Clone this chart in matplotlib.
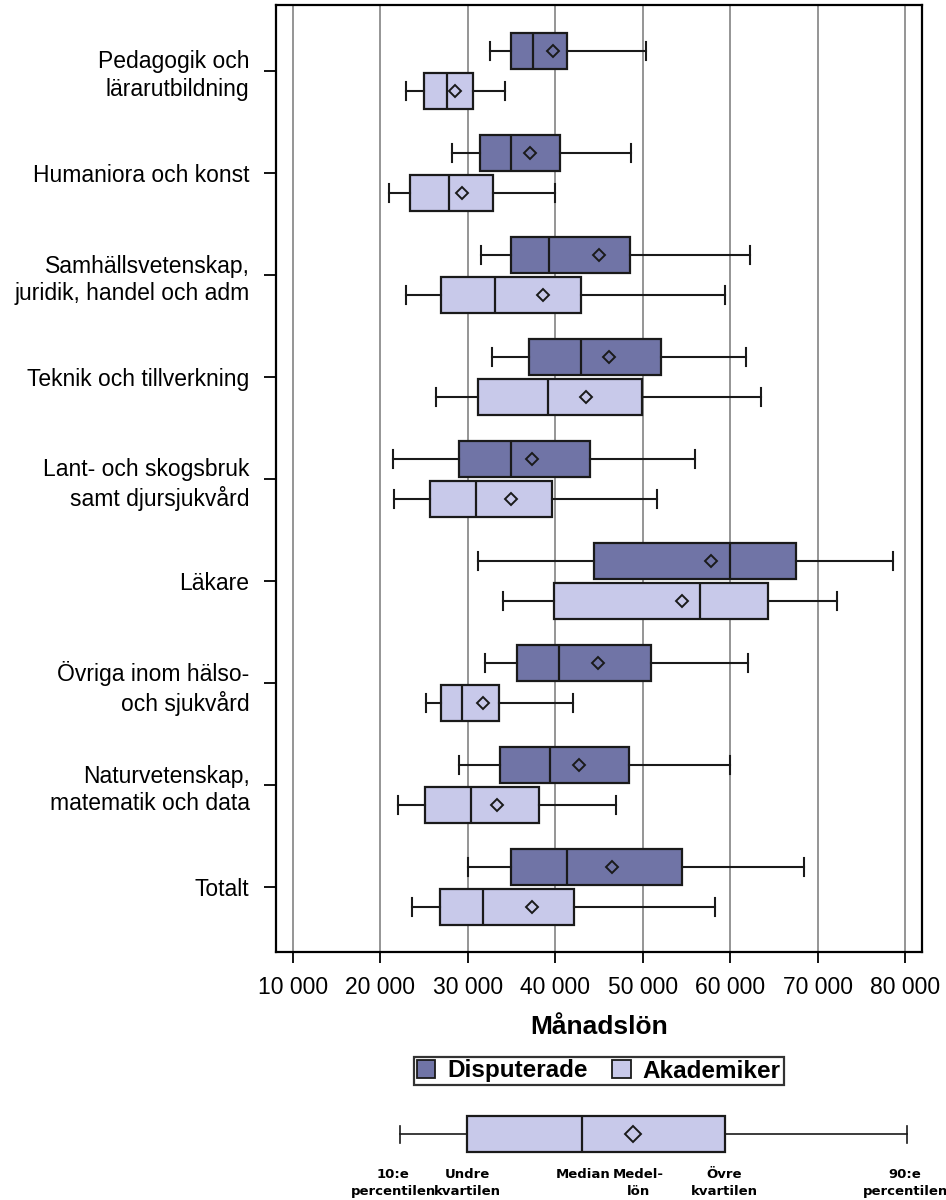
import matplotlib
matplotlib.use("Agg")
import matplotlib.pyplot as plt
from matplotlib.patches import Patch
from matplotlib.transforms import blended_transform_factory

# Categories (top to bottom)
categories = [
    "Pedagogik och\nlärarutbildning",
    "Humaniora och konst",
    "Samhällsvetenskap,\njuridik, handel och adm",
    "Teknik och tillverkning",
    "Lant- och skogsbruk\nsamt djursjukvård",
    "Läkare",
    "Övriga inom hälso-\noch sjukvård",
    "Naturvetenskap,\nmatematik och data",
    "Totalt",
]

# Disputerade: 10th percentile, quartiles, median, mean, 90th percentile
disp_p10 = [32500, 28200, 31500, 32800, 21500, 31200, 32000, 29000, 30000]
disp_q1 = [35000, 31400, 35000, 37000, 29000, 44400, 35600, 33700, 35000]
disp_med = [37500, 35000, 39300, 43000, 35000, 60000, 40400, 39400, 41400]
disp_mean = [39800, 37100, 45000, 46200, 37400, 57800, 44900, 42700, 46500]
disp_q3 = [41400, 40600, 48500, 52100, 44000, 67500, 50900, 48400, 54500]
disp_p90 = [50400, 48700, 62300, 61800, 56000, 78600, 62000, 60000, 68400]

# Akademiker
akad_p10 = [23000, 21000, 23000, 26400, 21600, 34000, 25200, 22000, 23600]
akad_q1 = [25000, 23400, 26900, 31200, 25700, 39900, 27000, 25100, 26800]
akad_med = [27600, 27900, 33100, 39200, 31000, 56500, 29300, 30400, 31800]
akad_mean = [28600, 29400, 38600, 43500, 34900, 54500, 31800, 33400, 37400]
akad_q3 = [30600, 32900, 43000, 49900, 39600, 64300, 33600, 38200, 42100]
akad_p90 = [34300, 40000, 59400, 63500, 51600, 72200, 42000, 47000, 58300]

# Explanatory key box
key_stats = [22300, 29900, 43100, 48900, 59400, 80200]  # p10, q1, med, mean, q3, p90
key_labels = ["10:e\npercentilen", "Undre\nkvartilen", "Median",
              "Medel-\nlön", "Övre\nkvartilen", "90:e\npercentilen"]
key_label_x = [21500, 30000, 43200, 49500, 59300, 80000]

xticks = [10000, 20000, 30000, 40000, 50000, 60000, 70000, 80000]
xticklabels = ["10 000", "20 000", "30 000", "40 000", "50 000", "60 000", "70 000", "80 000"]

DARK = "#7074A6"
LIGHT = "#C8C9EA"
EDGE = "#1a1a1a"
XLIM = (8090, 81920)


def make_stats(p10, q1, med, mean, q3, p90):
    return [dict(whislo=a, q1=b, med=c, mean=d, q3=e, whishi=f, fliers=[])
            for a, b, c, d, e, f in zip(p10, q1, med, mean, q3, p90)]


def draw(ax, stats, positions, color, width, capwidth, lw=1.5, ms=6.5):
    ax.bxp(stats, positions=positions, widths=width, capwidths=capwidth,
           orientation="horizontal", patch_artist=True, showmeans=True,
           showfliers=False, zorder=3,
           boxprops=dict(facecolor=color, edgecolor=EDGE, linewidth=1.6),
           medianprops=dict(color=EDGE, linewidth=1.6),
           whiskerprops=dict(color=EDGE, linewidth=lw),
           capprops=dict(color=EDGE, linewidth=lw),
           meanprops=dict(marker="D", markerfacecolor="none",
                          markeredgecolor=EDGE, markersize=ms,
                          markeredgewidth=1.4))


def main():
    plt.rcParams["font.family"] = ["Liberation Sans", "DejaVu Sans"]

    fig = plt.figure(figsize=(9.46, 12), dpi=100)
    W, H = 946, 1200
    ax = fig.add_axes([276 / W, 1 - 952 / H, 646 / W, 947 / H])

    n = len(categories)
    pos = list(range(n))
    draw(ax, make_stats(disp_p10, disp_q1, disp_med, disp_mean, disp_q3, disp_p90),
         [p - 0.197 for p in pos], DARK, 0.353, 0.176)
    draw(ax, make_stats(akad_p10, akad_q1, akad_med, akad_mean, akad_q3, akad_p90),
         [p + 0.2 for p in pos], LIGHT, 0.353, 0.176)

    ax.set_xlim(*XLIM)
    ax.set_ylim(n - 0.363, -0.647)
    ax.set_yticks(pos)
    ax.set_yticklabels(categories, fontsize=16.5, linespacing=1.25)
    ax.set_xticks(xticks)
    ax.set_xticklabels(xticklabels, fontsize=16.5)
    ax.tick_params(axis="y", length=9, width=1.3, pad=10)
    ax.tick_params(axis="x", length=8, width=1.3, pad=9)
    ax.grid(axis="x", color="#8c8c8c", linewidth=1.3)
    ax.set_axisbelow(True)
    for sp in ax.spines.values():
        sp.set_linewidth(1.6)

    fig.text(599 / W, 1 - 1027 / H, "Månadslön", ha="center", va="center",
             fontsize=19, fontweight="bold")

    handles = [Patch(facecolor=DARK, edgecolor=EDGE, linewidth=1.3, label="Disputerade"),
               Patch(facecolor=LIGHT, edgecolor=EDGE, linewidth=1.3, label="Akademiker")]
    leg = fig.legend(handles=handles, loc="center", ncol=2,
                     bbox_to_anchor=(599 / W, 1 - 1071 / H),
                     prop=dict(family="Liberation Sans", weight="bold", size=17.5),
                     frameon=True, fancybox=False, edgecolor="black",
                     borderpad=0.12, handlelength=0.75, handleheight=0.75,
                     handletextpad=0.5, columnspacing=1.0, borderaxespad=0)
    leg.get_frame().set_linewidth(1.6)

    # Explanatory key
    kax = fig.add_axes([276 / W, 1 - 1168 / H, 646 / W, 68 / H])
    kstats = [dict(whislo=key_stats[0], q1=key_stats[1], med=key_stats[2],
                   mean=key_stats[3], q3=key_stats[4], whishi=key_stats[5], fliers=[])]
    draw(kax, kstats, [0], LIGHT, 1.06, 0.5, lw=1.2, ms=8)
    kax.set_xlim(*XLIM)
    kax.set_ylim(1, -1)
    kax.axis("off")

    trans = blended_transform_factory(kax.transData, fig.transFigure)
    for x, lab in zip(key_label_x, key_labels):
        fig.text(x, 1 - 1168 / H, lab, transform=trans, ha="center", va="top",
                 fontsize=9.5, fontweight="bold", family="DejaVu Sans",
                 linespacing=1.4)

    fig.savefig("out.png", dpi=100)
    plt.close(fig)


if __name__ == "__main__":
    main()
